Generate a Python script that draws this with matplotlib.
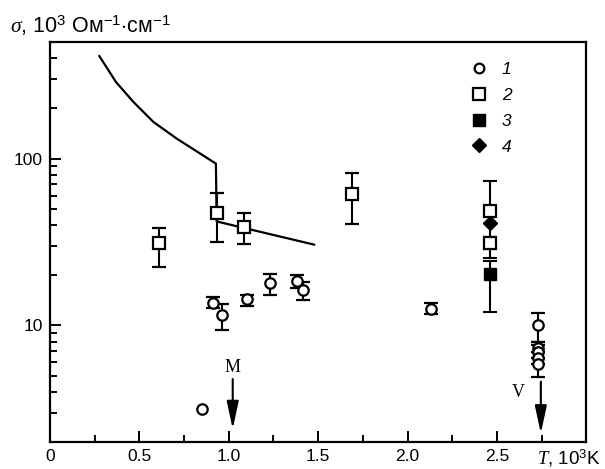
import matplotlib
matplotlib.use("Agg")
import matplotlib.pyplot as plt
from matplotlib.lines import Line2D
import numpy as np

plt.rcParams['font.family'] = ['Liberation Sans', 'DejaVu Sans']
plt.rcParams['mathtext.fontset'] = 'custom'
plt.rcParams['mathtext.rm'] = 'Liberation Sans'
plt.rcParams['mathtext.it'] = 'Liberation Serif:italic'
plt.rcParams['mathtext.sf'] = 'Liberation Sans'

# theory curve
curve_x = [0.276, 0.369, 0.466, 0.578, 0.708, 0.820, 0.928, 0.932, 1.477]
curve_y = [412, 288, 219, 166, 132, 110.6, 93.3, 42.0, 30.5]

# 1 - open circles (with error bars)
c_x = [0.913, 0.964, 1.100, 1.232, 1.380, 1.417, 2.129,
       2.73, 2.73, 2.73, 2.73, 2.73]
c_y = [13.7, 11.5, 14.3, 18.0, 18.4, 16.3, 12.6,
       10.1, 7.35, 6.96, 6.41, 5.89]
c_lo = [12.7, 9.37, 13.1, 15.2, 16.8, 14.2, 11.7,
        8.0, 6.9, 6.4, 5.9, 4.93]
c_hi = [14.7, 13.4, 15.2, 20.3, 20.0, 18.3, 13.7,
        11.8, 7.99, 7.6, 6.9, 6.4]
# 1 - open circle without error bar
c0_x = [0.848]
c0_y = [3.14]

# 2 - open squares
s_x = [0.610, 0.932, 1.087, 1.687, 2.463, 2.463]
s_y = [31.4, 47.3, 39.0, 61.7, 48.6, 31.4]
s_lo = [22.3, 31.6, 30.7, 40.8, 45.8, 28.8]
s_hi = [38.6, 62.5, 46.9, 82.0, 51.4, 34.0]

# 3 - filled squares
f_x = [2.463]
f_y = [20.4]
f_lo = [12.1]
f_hi = [24.4]

# 4 - filled diamonds
d_x = [2.463]
d_y = [41.0]
d_lo = [25.4]
d_hi = [73.0]

fig = plt.figure(figsize=(6.05, 4.69), dpi=100)
ax = fig.add_axes([0.0826, 0.0576, 0.8867, 0.8528])

ax.plot(curve_x, curve_y, color='black', lw=1.6, zorder=2)

ekw = dict(ecolor='black', elinewidth=1.5, capsize=5, capthick=1.5, ls='none', zorder=3)

def err(y, lo, hi):
    y = np.array(y); lo = np.array(lo); hi = np.array(hi)
    return [y - lo, hi - y]

ax.errorbar(c_x, c_y, yerr=err(c_y, c_lo, c_hi), marker='o', ms=7.5, mfc='white',
            mec='black', mew=1.6, **ekw)
ax.plot(c0_x, c0_y, ls='none', marker='o', ms=7.5, mfc='white', mec='black', mew=1.6)
ax.errorbar(s_x, s_y, yerr=err(s_y, s_lo, s_hi), marker='s', ms=8, mfc='white',
            mec='black', mew=1.6, **ekw)
ax.errorbar(d_x, d_y, yerr=err(d_y, d_lo, d_hi), marker='D', ms=7, mfc='black',
            mec='black', **ekw)
ax.errorbar(f_x, f_y, yerr=err(f_y, f_lo, f_hi), marker='s', ms=8, mfc='black',
            mec='black', **ekw)

ax.set_yscale('log')
ax.set_xlim(0, 3.0)
ax.set_ylim(2, 500)

ax.set_xticks([0, 0.5, 1.0, 1.5, 2.0, 2.5])
ax.set_xticklabels(['0', '0.5', '1.0', '1.5', '2.0', '2.5'])
ax.set_xticks(np.arange(0.25, 3.0, 0.25), minor=True)
ax.set_yticks([10, 100])
ax.set_yticklabels(['10', '100'])

ax.tick_params(which='both', direction='in', top=False, right=False,
               labelsize=12.5, width=1.4)
ax.tick_params(which='major', length=8, pad=5)
ax.tick_params(which='minor', length=5)
ax.yaxis.set_minor_formatter(matplotlib.ticker.NullFormatter())
for sp in ax.spines.values():
    sp.set_linewidth(1.6)

# axis labels
fig.text(0.017, 0.945, r'$\sigma$, 10$^3$ Ом$^{-1}$$\cdot$см$^{-1}$', fontsize=15.5,
         ha='left', va='center')
ax.text(0.968, -0.013, r'$T$, 10$^3$K', transform=ax.transAxes, fontsize=13.5,
        ha='center', va='top')

# arrows M and V
arw = dict(arrowstyle='-|>,head_length=1.4,head_width=0.3', color='black',
           lw=1.5, mutation_scale=12, shrinkA=0, shrinkB=0)
ax.annotate('', xy=(1.022, 2.39), xytext=(1.022, 4.77), arrowprops=arw)
ax.text(1.022, 5.6, 'M', fontsize=13, family='Liberation Serif', ha='center', va='center')
ax.annotate('', xy=(2.745, 2.25), xytext=(2.745, 4.6), arrowprops=arw)
ax.text(2.617, 3.97, 'V', fontsize=13, family='Liberation Serif', ha='center', va='center')

# legend
handles = [
    Line2D([], [], ls='none', marker='o', ms=7, mfc='white', mec='black', mew=1.6),
    Line2D([], [], ls='none', marker='s', ms=8, mfc='white', mec='black', mew=1.6),
    Line2D([], [], ls='none', marker='s', ms=8, mfc='black', mec='black'),
    Line2D([], [], ls='none', marker='D', ms=7, mfc='black', mec='black'),
]
leg = ax.legend(handles, ['1', '2', '3', '4'], loc='upper left',
                bbox_to_anchor=(0.755, 0.99), frameon=False, handlelength=1.0,
                handletextpad=0.8, labelspacing=0.62, fontsize=12.5)
for t in leg.get_texts():
    t.set_fontstyle('italic')

fig.savefig('out.png', dpi=100)
